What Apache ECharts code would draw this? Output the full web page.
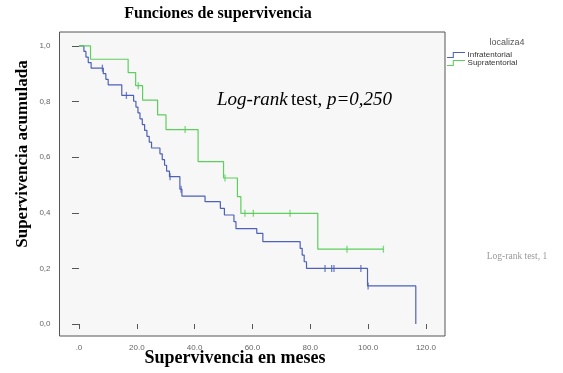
<!DOCTYPE html>
<html>
<head>
<meta charset="utf-8">
<script src="https://cdn.jsdelivr.net/npm/echarts@6/dist/echarts.min.js"></script>
<style>html,body{margin:0;padding:0;background:#fff}#c{width:563px;height:373px}</style>
</head>
<body>
<div id="c"></div>
<script>
// Infratentorial (blue) Kaplan-Meier steps
const infraTimes = [0, 1.7, 2.4, 3.2, 4.2, 8.4, 9.3, 10.1, 14.8, 18.9, 19.7, 20.4, 21.1, 21.9, 22.7, 23.5, 24.3, 25.1, 28.0, 28.8, 29.6, 30.3, 31.3, 34.9, 35.6, 43.6, 48.9, 50.3, 53.6, 54.3, 61.5, 63.6, 76.5, 77.2, 77.9, 78.7, 99.8, 116.5];
const infraSurv  = [1, 0.98, 0.96, 0.94, 0.92, 0.90, 0.88, 0.86, 0.822, 0.801, 0.780, 0.759, 0.738, 0.717, 0.696, 0.675, 0.654, 0.633, 0.612, 0.591, 0.571, 0.550, 0.530, 0.485, 0.460, 0.440, 0.416, 0.392, 0.368, 0.343, 0.326, 0.296, 0.272, 0.248, 0.224, 0.200, 0.137, 0];
const infraCensTimes = [8.1, 16.4, 31.5, 35.3, 85.1, 87.4, 88.2, 97.5, 100.0];
const infraCensSurv  = [0.92, 0.822, 0.530, 0.485, 0.200, 0.200, 0.200, 0.200, 0.137];

// Supratentorial (green) Kaplan-Meier steps
const supraTimes = [0, 4.0, 17.0, 19.6, 22.0, 27.2, 30.1, 41.2, 50.0, 54.8, 56.0, 82.6, 105.3];
const supraSurv  = [1, 0.952, 0.904, 0.857, 0.805, 0.752, 0.699, 0.584, 0.525, 0.458, 0.398, 0.269, 0.269];
const supraCensTimes = [20.5, 36.7, 50.5, 57.4, 60.3, 73.0, 92.7, 105.3];
const supraCensSurv  = [0.857, 0.699, 0.525, 0.398, 0.398, 0.398, 0.269, 0.269];

const xTicks = [0, 20, 40, 60, 80, 100, 120];
const yTicks = [0, 0.2, 0.4, 0.6, 0.8, 1.0];
const groupNames = ['Infratentorial', 'Supratentorial'];

const zip = (a, b) => a.map((v, i) => [v, b[i]]);
const BLUE = '#4e61b9', GREEN = '#5ccf5c';
const stepIcon = 'path://M0,6 L7,6 L7,0 L22,0 L22,1.3 L8.3,1.3 L8.3,7.3 L0,7.3 Z';

const chart = echarts.init(document.getElementById('c'), null, {renderer: 'canvas'});
chart.setOption({
  animation: false,
  backgroundColor: '#ffffff',
  grid: {left: 59.5, top: 32, right: 118, bottom: 37, show: true, backgroundColor: '#f7f7f7', borderColor: '#555', borderWidth: 1},
  xAxis: {
    type: 'value', min: -6.74, max: 126.6,
    splitLine: {show: false},
    axisLine: {show: false},
    axisTick: {show: true, length: 5, customValues: xTicks, lineStyle: {color: '#555'}},
    axisLabel: {customValues: xTicks, margin: 8, fontSize: 8, color: '#666', fontFamily: 'Liberation Sans',
      formatter: v => v === 0 ? '.0' : v.toFixed(1)}
  },
  yAxis: {
    type: 'value', min: -0.043, max: 1.050,
    splitLine: {show: false},
    axisLine: {show: false},
    axisTick: {show: true, length: 7, customValues: yTicks, lineStyle: {color: '#555'}},
    axisLabel: {customValues: yTicks, margin: 9, fontSize: 8, color: '#666', fontFamily: 'Liberation Sans',
      formatter: v => v.toFixed(1).replace('.', ',')}
  },
  legend: {
    orient: 'vertical', left: 447, top: 51, padding: 0, itemGap: 0, itemWidth: 21, itemHeight: 6,
    icon: stepIcon,
    textStyle: {fontSize: 8, color: '#333', fontFamily: 'Liberation Sans', padding: [0, 0, 0, -4]},
    data: groupNames
  },
  series: [
    {name: groupNames[0], type: 'line', step: 'end', data: zip(infraTimes, infraSurv), showSymbol: false, symbol: 'none',
      lineStyle: {color: BLUE, width: 1.2}, itemStyle: {color: BLUE}, z: 2},
    {name: groupNames[1], type: 'line', step: 'end', data: zip(supraTimes, supraSurv), showSymbol: false, symbol: 'none',
      lineStyle: {color: GREEN, width: 1.2}, itemStyle: {color: GREEN}, z: 3},
    {name: groupNames[0] + ' censurado', type: 'scatter', data: zip(infraCensTimes, infraCensSurv), symbol: 'rect', symbolSize: [1.3, 7],
      itemStyle: {color: BLUE}, z: 4, silent: true},
    {name: groupNames[1] + ' censurado', type: 'scatter', data: zip(supraCensTimes, supraCensSurv), symbol: 'rect', symbolSize: [1.3, 7],
      itemStyle: {color: GREEN}, z: 4, silent: true}
  ],
  graphic: [
    {type: 'text', x: 218, y: 14, style: {text: 'Funciones de supervivencia', font: 'bold 16px "Liberation Serif"', fill: '#000', textAlign: 'center', textVerticalAlign: 'middle'}},
    {type: 'text', x: 23, y: 154, rotation: Math.PI / 2, style: {text: 'Supervivencia acumulada', font: 'bold 17px "Liberation Serif"', fill: '#000', textAlign: 'center', textVerticalAlign: 'middle'}},
    {type: 'text', x: 235, y: 358, style: {text: 'Supervivencia en meses', font: 'bold 18px "Liberation Serif"', fill: '#000', textAlign: 'center', textVerticalAlign: 'middle'}},
    {type: 'text', x: 507, y: 43, style: {text: 'localiza4', font: '9px "Liberation Sans"', fill: '#555', textAlign: 'center', textVerticalAlign: 'middle'}},
    {type: 'text', x: 517, y: 256, style: {text: 'Log-rank test, 1', font: '9.5px "Liberation Serif"', fill: '#999', textAlign: 'center', textVerticalAlign: 'middle'}},
    {type: 'text', x: 217, y: 100, style: {
      text: '{i|Log-rank} {n|test, }{i|p=0,250}', textVerticalAlign: 'middle',
      rich: {i: {font: 'italic 19px "Liberation Serif"', fill: '#000'}, n: {font: '19px "Liberation Serif"', fill: '#000'}}
    }}
  ]
});
</script>
</body>
</html>
